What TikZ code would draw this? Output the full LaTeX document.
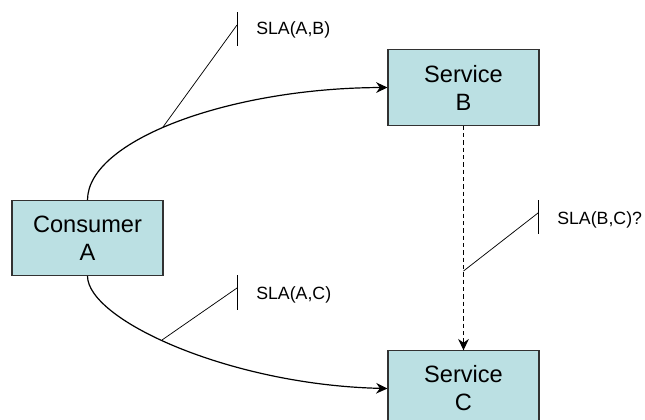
\documentclass[tikz,border=0pt]{standalone}
\usepackage{fontspec}
\setmainfont{Liberation Sans}
\usetikzlibrary{arrows.meta}
\definecolor{boxfill}{RGB}{187,224,227}
\definecolor{boxline}{RGB}{50,50,50}
\tikzset{
  entity/.style={draw=boxline, line width=0.8pt, fill=boxfill, minimum width=113.25pt,
    minimum height=56.5pt, inner sep=0pt, align=center,
    font=\fontsize{17.7pt}{21pt}\selectfont},
  flow/.style={line width=0.9pt, -{Stealth[length=8.5pt,width=8pt,inset=2.8pt]}},
  dflow/.style={flow, dash pattern=on 3.2pt off 2.3pt},
  callout/.style={line width=0.55pt},
  slatext/.style={anchor=west, inner sep=0pt, font=\fontsize{13.3pt}{16pt}\selectfont}
}
\begin{document}
\begin{tikzpicture}[x=0.75pt,y=-0.75pt]
\clip (0,0) rectangle (645,419);
\fill[white] (0,0) rectangle (645,419);
\node[entity] (A) at (87.5,238) {Consumer\\A};
\node[entity] (B) at (463.5,87.5) {Service\\B};
\node[entity] (C) at (463.5,388.5) {Service\\C};

\draw[flow] (A.north) .. controls (88,140) and (230,88) .. (B.west);
\draw[flow] (A.south) .. controls (88,320) and (230,385) .. (C.west);
\draw[dflow] (B.south) -- (C.north);

% callout SLA(A,B)
\coordinate (ab0) at (163,127);
\coordinate (ab1) at (237,25);
\coordinate (abt) at (237,12);
\coordinate (abb) at (237,46);
\draw[callout] (ab0) -- (ab1);
\draw[callout] (abt) -- (abb);
\node[slatext] (lab) at (256,29.5) {SLA(A,B)};

% callout SLA(A,C)
\coordinate (ac0) at (162,340);
\coordinate (ac1) at (237,288);
\coordinate (act) at (237,275);
\coordinate (acb) at (237,310);
\draw[callout] (ac0) -- (ac1);
\draw[callout] (act) -- (acb);
\node[slatext] (lac) at (256,294.5) {SLA(A,C)};

% callout SLA(B,C)?
\coordinate (bc0) at (463.5,271);
\coordinate (bc1) at (538,213);
\coordinate (bct) at (538,200);
\coordinate (bcb) at (538,234);
\draw[callout] (bc0) -- (bc1);
\draw[callout] (bct) -- (bcb);
\node[slatext] (lbc) at (557,219.5) {SLA(B,C)?};
\end{tikzpicture}
\end{document}
